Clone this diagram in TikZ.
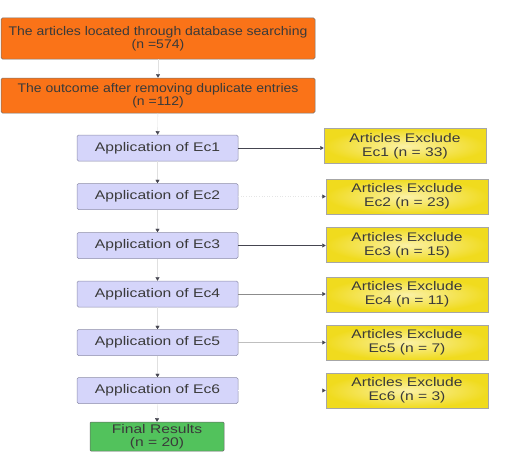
\documentclass[tikz,border=0pt]{standalone}
\usepackage{fontspec}
\setmainfont{Liberation Sans}
\newfontfamily\wideA{Liberation Sans}[FakeStretch=1.25]
\newfontfamily\wideB{Liberation Sans}[FakeStretch=1.12]
\usetikzlibrary{arrows.meta}
\definecolor{orangebox}{HTML}{FA7318}
\definecolor{lavbox}{HTML}{D5D5FA}
\definecolor{lavedge}{HTML}{8C8CA8}
\definecolor{yelout}{HTML}{F0DB1E}
\definecolor{yelin}{HTML}{FBF1A6}
\definecolor{greenbox}{HTML}{52C25C}
\definecolor{txt}{HTML}{3A3A3A}
\definecolor{arr}{HTML}{454550}
\tikzset{
  topbox/.style={draw=black!55, line width=0.5pt, fill=orangebox, rounded corners=1.5pt,
    minimum width=314pt, align=center, inner sep=0pt, text=txt,
    font=\wideB\fontsize{12.5}{13}\selectfont},
  appbox/.style={draw=lavedge, line width=0.5pt, fill=lavbox, rounded corners=1.5pt,
    minimum width=161pt, minimum height=26pt, inner sep=0pt, text=txt,
    font=\wideA\fontsize{12.5}{14}\selectfont},
  exbox/.style={draw=black!35, line width=0.5pt, inner color=yelin, outer color=yelout,
    shading=radial, minimum width=162pt, minimum height=35pt, inner sep=0pt, align=center,
    text=txt, font=\wideA\fontsize{12.5}{14}\selectfont},
  finbox/.style={draw=black!60, line width=0.5pt, fill=greenbox, rounded corners=1pt,
    minimum width=134pt, minimum height=29pt, inner sep=0pt, align=center, text=txt,
    font=\wideA\fontsize{12.5}{13}\selectfont},
  varr/.style={draw=black!12, line width=0.4pt, -{Triangle[length=3.5pt,width=4pt,color=arr]}},
  harr/.style={line width=0.6pt, -{Triangle[length=3.5pt,width=4pt,color=arr]}},
}
\begin{document}
\begin{tikzpicture}[x=1pt,y=-1pt]
\useasboundingbox (0,0) rectangle (518,452);
\node[topbox, minimum height=41pt] (top1) at (158,38.5) {The articles located through database searching\\(n =574)};
\node[topbox, minimum height=35pt] (top2) at (158,95.5) {The outcome after removing duplicate entries\\(n =112)};

\node[appbox] (a1) at (157.5,148) {Application of Ec1};
\node[appbox] (a2) at (157.5,196.5) {Application of Ec2};
\node[appbox] (a3) at (157.5,245.5) {Application of Ec3};
\node[appbox] (a4) at (157.5,294) {Application of Ec4};
\node[appbox] (a5) at (157.5,342.5) {Application of Ec5};
\node[appbox] (a6) at (157.5,390.5) {Application of Ec6};
\node[finbox] (fin) at (157,436.5) {Final Results\\(n = 20)};

\node[exbox] (e1) at (405,146) {Articles Exclude\\Ec1 (n = 33)};
\node[exbox] (e2) at (407,196.5) {Articles Exclude\\Ec2 (n = 23)};
\node[exbox] (e3) at (407,245) {Articles Exclude\\Ec3 (n = 15)};
\node[exbox] (e4) at (407,294.5) {Articles Exclude\\Ec4 (n = 11)};
\node[exbox] (e5) at (407,342.5) {Articles Exclude\\Ec5 (n = 7)};
\node[exbox] (e6) at (407,390.5) {Articles Exclude\\Ec6 (n = 3)};

\draw[varr] (top1) -- (top2);
\draw[varr] (top2) -- (a1);
\draw[varr] (a1) -- (a2);
\draw[varr] (a2) -- (a3);
\draw[varr] (a3) -- (a4);
\draw[varr] (a4) -- (a5);
\draw[varr] (a5) -- (a6);
\draw[varr] (a6.south) -- (fin.north);

\draw[harr, draw=arr] (a1.east) -- (a1.east -| e1.west);
\draw[harr, draw=black!10, dotted] (a2.east) -- (a2.east -| e2.west);
\draw[harr, draw=arr] (a3.east) -- (a3.east -| e3.west);
\draw[harr, draw=black!45] (a4.east) -- (a4.east -| e4.west);
\draw[harr, draw=black!25] (a5.east) -- (a5.east -| e5.west);
\draw[harr, draw=white] (a6.east) -- (a6.east -| e6.west);
\end{tikzpicture}
\end{document}
